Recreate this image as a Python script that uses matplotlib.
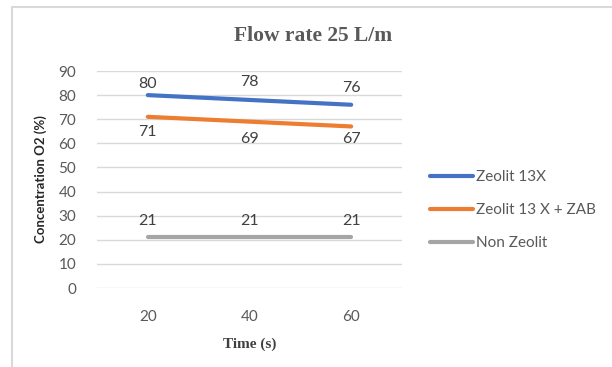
import matplotlib
matplotlib.use('Agg')
import matplotlib.pyplot as plt
from matplotlib.patches import Rectangle

# data
times = [20, 40, 60]
zeolit_13x = [80, 78, 76]
zeolit_13x_zab = [71, 69, 67]
non_zeolit = [21, 21, 21]

series_names = ['Zeolit 13X', 'Zeolit 13 X + ZAB', 'Non Zeolit']
colors = ['#4472C4', '#ED7D31', '#A5A5A5']

# label offsets in pixels (positive = above the line)
label_offsets = [[11, 18, 17], [-15, -17, -13], [16, 16, 16]]

W, H = 612, 367
fig = plt.figure(figsize=(W / 100, H / 100), dpi=100)
fig.patch.set_facecolor('white')

# chart frame, only the top and left edges show
fig.patches.append(Rectangle((12 / W, -0.1), 1.2, (H - 7) / H + 0.1,
                             transform=fig.transFigure, fill=False,
                             edgecolor='#D9D9D9', lw=1.5))

ax = fig.add_axes([97 / W, (H - 288) / H, 305 / W, 217 / H])

pos = [1, 2, 3]
all_series = [zeolit_13x, zeolit_13x_zab, non_zeolit]
for vals, name, c, offs in zip(all_series, series_names, colors, label_offsets):
    ax.plot(pos, vals, color=c, lw=3, solid_capstyle='round', label=name, zorder=3)
    for p, v, o in zip(pos, vals, offs):
        ax.annotate(str(v), (p, v), xytext=(0, o), textcoords='offset pixels',
                    ha='center', va='center', fontsize=11.5, family='Lato',
                    color='#404040')

ax.set_xlim(0.5, 3.5)
ax.set_ylim(0, 90)
ax.set_yticks(range(0, 91, 10))
ax.set_xticks(pos)
ax.set_xticklabels([str(t) for t in times])
ax.grid(axis='y', color='#D9D9D9', lw=1)
ax.set_axisbelow(True)
for s in ax.spines.values():
    s.set_visible(False)
ax.tick_params(length=0, labelsize=11, labelcolor='#595959', pad=15)
ax.tick_params(axis='x', pad=16)
for lab in ax.get_xticklabels() + ax.get_yticklabels():
    lab.set_family('Lato')

ax.set_ylabel('Concentration O2 (%)', fontsize=9.5, fontweight='bold',
              family='Lato', color='#262626')
ax.yaxis.set_label_coords(-(97 - 47) / 305, 0.5)
ax.set_xlabel('Time (s)', fontsize=11, fontweight='bold',
              family='Liberation Serif', color='#404040')
ax.xaxis.set_label_coords(0.5, -(338 - 288) / 217)

fig.text(313 / W, 1 - 36 / H, 'Flow rate 25 L/m', ha='center', va='center',
         fontsize=15.5, fontweight='bold', family='Liberation Serif', color='#595959')

leg = fig.legend(loc='center left', bbox_to_anchor=(430 / W, 1 - 210 / H),
                 frameon=False, prop={'family': 'Lato', 'size': 11},
                 handlelength=2.8, handletextpad=0.2, labelspacing=1.25,
                 borderpad=0, borderaxespad=0)
for t in leg.get_texts():
    t.set_color('#595959')

fig.savefig('out.png', dpi=100)
